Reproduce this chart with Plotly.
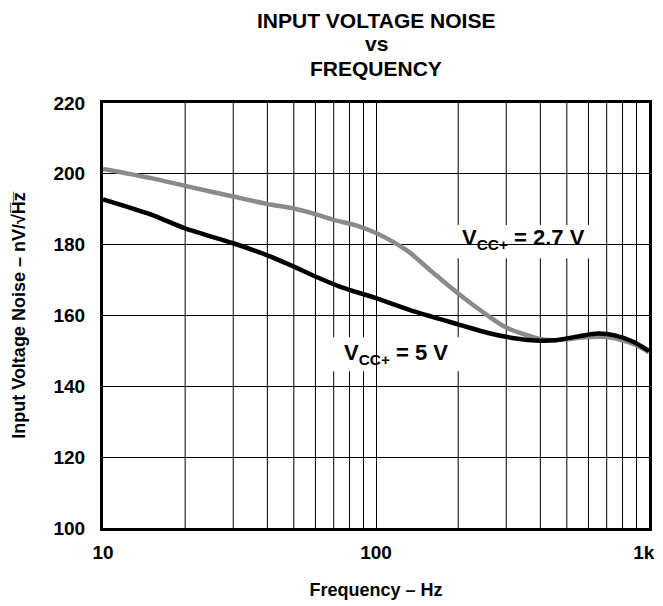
import plotly.graph_objects as go

freq_27 = [10, 15, 20, 30, 40, 50, 60, 70, 85, 100, 130, 160, 200, 250, 300, 400, 450, 500, 600, 700, 800, 900, 1000]
noise_27 = [201.4, 198.8, 196.6, 193.6, 191.5, 190.2, 188.6, 187.0, 185.4, 183.3, 178.3, 172.4, 166.2, 160.6, 156.6, 153.4, 153.0, 153.3, 153.9, 153.9, 153.0, 151.6, 149.6]

freq_5 = [10, 15, 20, 30, 40, 50, 60, 74, 100, 140, 200, 260, 320, 400, 450, 550, 650, 750, 875, 1000]
noise_5 = [192.8, 188.5, 184.6, 180.4, 177.0, 173.8, 171.0, 168.1, 164.9, 161.0, 157.5, 155.0, 153.6, 152.9, 153.0, 154.1, 154.9, 154.4, 152.6, 150.0]

x_tickvals = [10, 100, 1000]
x_ticktext = ["10", "100", "1k\u00a0\u00a0"]
y_tickvals = [100, 120, 140, 160, 180, 200, 220]
grid_x = [20, 30, 40, 50, 60, 70, 80, 90, 200, 300, 400, 500, 600, 700, 800, 900]
title_lines = ["INPUT VOLTAGE NOISE", "vs", "FREQUENCY"]

FONT = "Liberation Sans, Arial, sans-serif"

fig = go.Figure()
fig.add_trace(go.Scatter(x=freq_27, y=noise_27, mode="lines",
                         line=dict(color="#8a8a8a", width=4.5, shape="spline", smoothing=0.8),
                         showlegend=False, hoverinfo="skip"))
fig.add_trace(go.Scatter(x=freq_5, y=noise_5, mode="lines",
                         line=dict(color="#000000", width=4.5, shape="spline", smoothing=0.8),
                         showlegend=False, hoverinfo="skip"))

shapes = []
for g in grid_x:
    shapes.append(dict(type="line", xref="x", yref="paper", x0=g, x1=g, y0=0, y1=1,
                       line=dict(color="black", width=1), layer="below"))
# white label boxes
shapes.append(dict(type="rect", xref="paper", yref="paper", x0=0.608, x1=0.897, y0=0.635, y1=0.713,
                   fillcolor="white", line=dict(width=0), layer="below"))
shapes.append(dict(type="rect", xref="paper", yref="paper", x0=0.397, x1=0.663, y0=0.369, y1=0.449,
                   fillcolor="white", line=dict(width=0), layer="below"))

annotations = []
title_y = [1.195, 1.139, 1.080]
for t, yy in zip(title_lines, title_y):
    annotations.append(dict(text="<b>%s</b>" % t, x=0.5, y=yy, xref="paper", yref="paper",
                            xanchor="center", yanchor="middle", showarrow=False,
                            borderpad=0,
                            font=dict(size=21, family=FONT)))
annotations.append(dict(x=0.771, y=0.681, xref="paper", yref="paper",
                        text="<b>V<sub>CC+</sub> = 2.7 V</b>", showarrow=False,
                        xanchor="center", yanchor="middle",
                        font=dict(size=22, family=FONT)))
annotations.append(dict(x=0.537, y=0.409, xref="paper", yref="paper",
                        text="<b>V<sub>CC+</sub> = 5 V</b>", showarrow=False,
                        xanchor="center", yanchor="middle",
                        font=dict(size=22, family=FONT)))

fig.update_layout(
    width=655, height=598,
    margin=dict(l=95, r=14, t=95, b=78, autoexpand=False),
    paper_bgcolor="white", plot_bgcolor="white",
    font=dict(family=FONT, color="black", size=18),
    shapes=shapes,
    annotations=annotations,
    xaxis=dict(type="log", range=[1, 3], tickvals=x_tickvals,
               ticktext=["<b>%s</b>" % t for t in x_ticktext],
               showgrid=True, gridcolor="black", gridwidth=1,
               showline=True, linecolor="black", linewidth=3, mirror=True,
               ticks="", tickfont=dict(size=19, family=FONT), ticklabelstandoff=5,
               ticklabeloverflow="allow",
               automargin=False,
               title=dict(text="<b>Frequency – Hz</b>", font=dict(size=18, family=FONT), standoff=22),
               zeroline=False),
    yaxis=dict(range=[100, 220], tickvals=y_tickvals,
               ticktext=["<b>%d</b>" % v for v in y_tickvals],
               showgrid=True, gridcolor="black", gridwidth=1,
               showline=True, linecolor="black", linewidth=3, mirror=True,
               ticks="", tickfont=dict(size=19, family=FONT), ticklabelstandoff=11,
               automargin=False,
               title=dict(text="<b>Input Voltage Noise – nV/√H\u0305z\u0305</b>", font=dict(size=18, family=FONT), standoff=24),
               zeroline=False),
)

fig.write_html("out.html")
